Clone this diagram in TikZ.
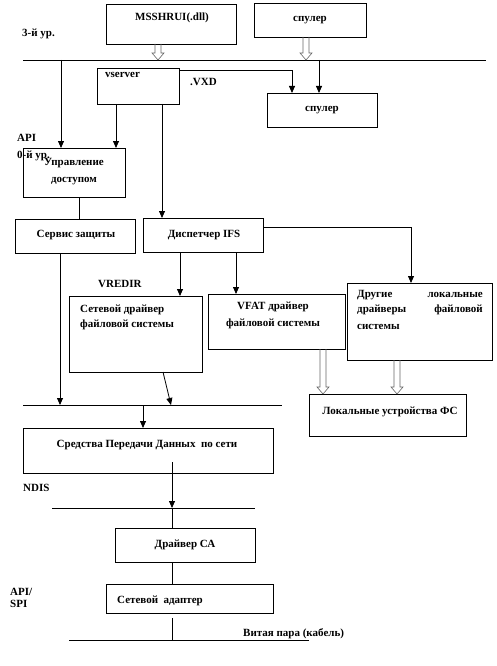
\documentclass[tikz,border=0pt]{standalone}
\usepackage{fontspec}
\setmainfont{Liberation Serif}
\usetikzlibrary{arrows.meta,calc}
\newcommand\hollowarrowx[2]{\draw[hol] let \p1=(#1), \p2=(#2) in (\x1-3pt,\y1) -- (\x1-3pt,\y2+7pt) -- (\x1-6pt,\y2+7pt) -- (\x1,\y2) -- (\x1+6pt,\y2+7pt) -- (\x1+3pt,\y2+7pt) -- (\x1+3pt,\y1);}
\newcommand\mybox[5]{\node[box,minimum width={#4-#2},minimum height={#5-#3}] (#1) at (#2,#3) {};}
\begin{document}
\begin{tikzpicture}[x=1pt,y=-1pt,
 box/.style={draw,line width=0.8pt,inner sep=0pt,outer sep=0pt,anchor=north west},
 lbl/.style={inner sep=0pt,anchor=base,font=\bfseries\fontsize{11}{13}\selectfont},
 lblw/.style={lbl,anchor=base west},
 lble/.style={lbl,anchor=base east},
 ln/.style={line width=0.8pt},
 arr/.style={line width=0.8pt,-{Triangle[length=7pt,width=6pt]}},
 hol/.style={line width=0.6pt,draw=black!60}]
\useasboundingbox (0,0) rectangle (497,666);
% boxes
\mybox{msshrui}{106}{4}{236}{44}
\mybox{spA}{254}{3}{366}{37}
\mybox{vsrv}{97}{68}{179}{104}
\mybox{spB}{267}{93}{377}{127}
\mybox{upr}{23}{148}{125}{197}
\mybox{serv}{15}{219}{135}{253}
\mybox{disp}{143}{218}{263}{252}
\mybox{setdr}{69}{296}{202}{372}
\mybox{vfat}{208}{294}{345}{349}
\mybox{drug}{347}{283}{492}{360}
\mybox{lok}{309}{394}{466}{436}
\mybox{sred}{23}{428}{273}{473}
\mybox{drv}{115}{528}{255}{562}
\mybox{adap}{106}{584}{273}{613}
% texts
\node[lbl] (t1) at (172,21) {MSSHRUI(.dll)};
\node[lbl] (t2) at (310,22) {спулер};
\node[lblw] (t3) at (22,37) {3-й ур.};
\node[lblw] (t4) at (105,78) {vserver};
\node[lblw] (t5) at (190,86) {.VXD};
\node[lbl] (t6) at (322,112) {спулер};
\node[lblw] (t7) at (17,141) {API};
\node[lblw] (t8) at (17,158) {0-й ур.};
\node[lbl] (t9) at (74,165) {Управление};
\node[lbl] (t10) at (74,182) {доступом};
\node[lbl] (t11) at (76,237) {Сервис защиты};
\node[lbl] (t12) at (204,237) {Диспетчер IFS};
\node[lblw] (t13) at (98,287) {VREDIR};
\node[lblw] (t14) at (80,312) {Сетевой драйвер};
\node[lblw] (t15) at (80,327) {файловой системы};
\node[lbl] (t16) at (273,309) {VFAT драйвер};
\node[lbl] (t17) at (273,326) {файловой системы};
\node[lblw] (t18) at (357,297) {Другие};
\node[lble] (t19) at (483,297) {локальные};
\node[lblw] (t20) at (357,312) {драйверы};
\node[lble] (t21) at (483,312) {файловой};
\node[lblw] (t22) at (357,329) {системы};
\node[lbl] (t23) at (390,414) {Локальные устройства ФС};
\node[lbl] (t24) at (147,447) {Средства Передачи Данных\ \ по сети};
\node[lblw] (t25) at (23,491) {NDIS};
\node[lbl] (t26) at (185,547) {Драйвер СА};
\node[lblw] (t27) at (10,595) {API/};
\node[lblw] (t28) at (10,607) {SPI};
\node[lblw] (t29) at (117,603) {Сетевой\ \ адаптер};
\node[lblw] (t30) at (243,636) {Витая пара (кабель)};
% bus lines
\coordinate (b1L) at (23,60); \coordinate (b1R) at (486,60);
\coordinate (b2L) at (23,405); \coordinate (b2R) at (282,405);
\coordinate (b3L) at (52,508); \coordinate (b3R) at (255,508);
\coordinate (b4L) at (69,640); \coordinate (b4R) at (309,640);
\draw[ln] (b1L) -- (b1R);
\draw[ln] (b2L) -- (b2R);
\draw[ln] (b3L) -- (b3R);
\draw[ln] (b4L) -- (b4R);
% x positions
\coordinate (k61) at (61,0); \coordinate (k79) at (79,0);
\coordinate (k60) at (60,0); \coordinate (k116) at (116,0);
\coordinate (k143) at (143,0); \coordinate (k158) at (158,0);
\coordinate (k162) at (162,0); \coordinate (k163) at (163,0);
\coordinate (k171) at (171,0); \coordinate (k172) at (172,0);
\coordinate (k180) at (180,0); \coordinate (k236) at (236,0);
\coordinate (k292) at (292,0); \coordinate (k306) at (306,0);
\coordinate (k319) at (319,0); \coordinate (k323) at (323,0);
\coordinate (k397) at (397,0); \coordinate (k411) at (411,0);
% connectors
\hollowarrowx{msshrui.south -| k158}{b1L -| k158}
\hollowarrowx{spA.south -| k306}{b1L -| k306}
\draw[arr] (b1L -| k61) -- (upr.north -| k61);
\draw[arr] ($(vsrv.north east)+(0,2)$) -| (spB.north -| k292);
\draw[arr] (b1L -| k319) -- (spB.north -| k319);
\draw[arr] (vsrv.south -| k116) -- (upr.north -| k116);
\draw[arr] (vsrv.south -| k162) -- (disp.north -| k162);
\draw[ln] (upr.south -| k79) -- (serv.north -| k79);
\draw[arr] (serv.south -| k60) -- (b2L -| k60);
\draw[arr] ($(disp.north east)+(0,9)$) -| (drug.north -| k411);
\draw[arr] (disp.south -| k180) -- (setdr.north -| k180);
\draw[arr] (disp.south -| k236) -- (vfat.north -| k236);
\hollowarrowx{vfat.south -| k323}{lok.north -| k323}
\hollowarrowx{drug.south -| k397}{lok.north -| k397}
\draw[arr] (setdr.south -| k163) -- (b2L -| k171);
\draw[arr] (b2L -| k143) -- (sred.north -| k143);
\draw[arr] ($(sred.south -| k172)+(0,-11)$) -- (b3L -| k172);
\draw[ln] (b3L -| k172) -- (drv.north -| k172);
\draw[ln] (drv.south -| k172) -- (adap.north -| k172);
\draw[ln] ($(adap.south -| k172)+(0,5)$) -- (b4L -| k172);
\end{tikzpicture}
\end{document}
